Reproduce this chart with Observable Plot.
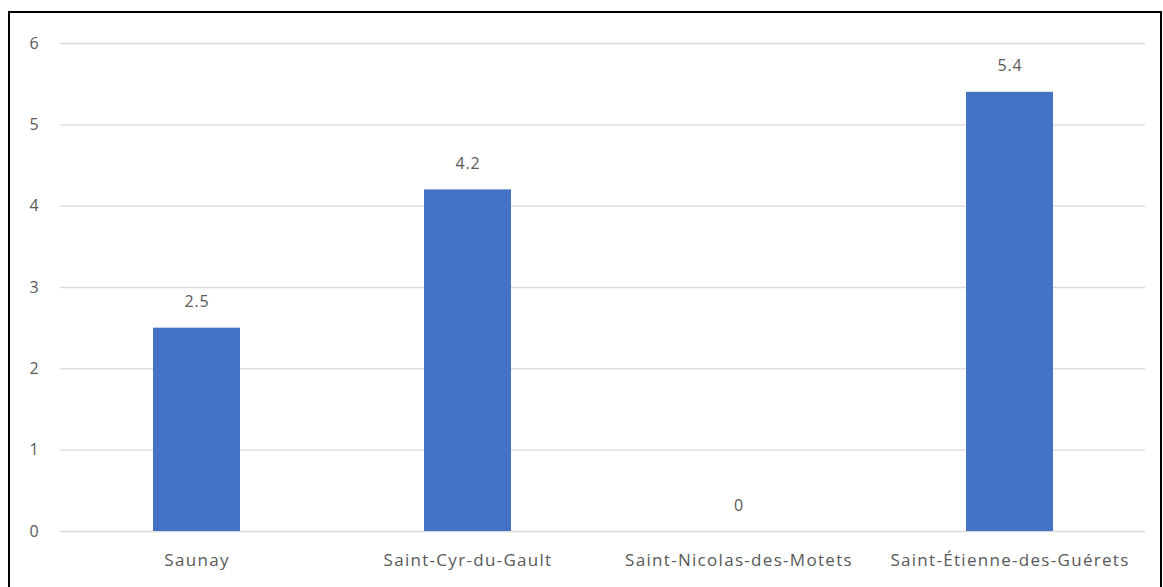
<!DOCTYPE html>
<html>
<head>
<meta charset="utf-8">
<script src="https://cdn.jsdelivr.net/npm/d3@7"></script>
<script src="https://cdn.jsdelivr.net/npm/@observablehq/plot@0.6"></script>
<style>
  html, body { margin: 0; padding: 0; background: #fff; }
  #wrap { position: relative; width: 1163px; height: 587px; overflow: hidden; }
  #frame { position: absolute; left: 8px; top: 11px; width: 1150px; height: 600px; border: 2px solid #000; border-bottom: none; pointer-events: none; }
  svg { display: block; }
  svg text { letter-spacing: 0.9px; }
  svg g[aria-label="x-axis tick label"] text { letter-spacing: 1.3px; font-size: 17px; }
</style>
</head>
<body>
<div id="wrap"><div id="chart"></div><div id="frame"></div></div>
<script>
const communes = ["Saunay", "Saint-Cyr-du-Gault", "Saint-Nicolas-des-Motets", "Saint-Étienne-des-Guérets"];
const values = [2.5, 4.2, 0, 5.4];
const yTicks = [0, 1, 2, 3, 4, 5, 6];

const data = communes.map((c, i) => ({commune: c, value: values[i]}));

const plot = Plot.plot({
  width: 1163,
  height: 587,
  marginLeft: 60,
  marginRight: 18,
  marginTop: 43,
  marginBottom: 56,
  style: {fontFamily: "'Open Sans', 'Liberation Sans', sans-serif", fontSize: "16px", color: "#595959", background: "transparent"},
  x: {domain: communes, paddingInner: 0.68, paddingOuter: 0.34, label: null, tickSize: 0, tickPadding: 22},
  y: {domain: [0, 6], ticks: yTicks, label: null, tickSize: 0, tickPadding: 21, tickFormat: d => String(d)},
  marks: [
    Plot.ruleY(yTicks, {stroke: "#d9d9d9", strokeWidth: 1.3}),
    Plot.barY(data, {x: "commune", y: "value", fill: "#4472C4"}),
    Plot.text(data, {x: "commune", y: "value", text: d => String(d.value), lineAnchor: "bottom", dy: -21, fill: "#595959", fontSize: 16})
  ]
});
document.getElementById("chart").appendChild(plot);
</script>
</body>
</html>
